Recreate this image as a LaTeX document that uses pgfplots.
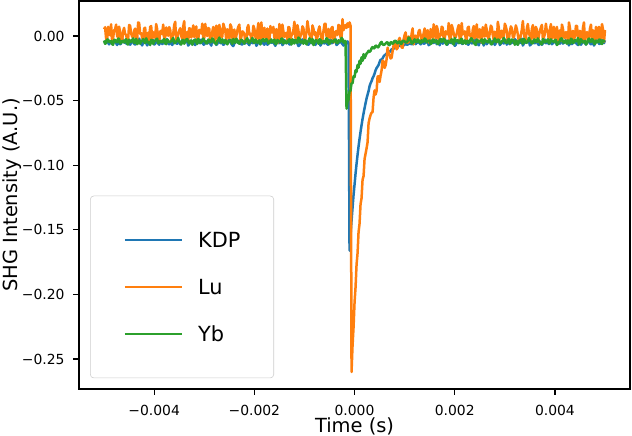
\documentclass[border=0pt]{standalone}
\usepackage{fontspec}
\setmainfont{DejaVu Sans}
\usepackage{pgfplots}
\usepackage{pgfplotstable}
\pgfplotsset{compat=1.18}
\definecolor{tabblue}{HTML}{1F77B4}
\definecolor{taborange}{HTML}{FF7F0E}
\definecolor{tabgreen}{HTML}{2CA02C}
\pgfplotstableread{
t kdp lu yb
-0.00500 -0.0046 0.0052 -0.0035
-0.00498 -0.0050 0.0068 -0.0060
-0.00496 -0.0033 -0.0018 -0.0055
-0.00494 -0.0032 -0.0035 -0.0027
-0.00492 -0.0051 0.0071 -0.0028
-0.00490 -0.0065 0.0025 -0.0045
-0.00488 -0.0041 0.0005 -0.0048
-0.00486 -0.0043 0.0090 -0.0038
-0.00484 -0.0060 -0.0035 -0.0062
-0.00482 -0.0056 -0.0018 -0.0068
-0.00480 -0.0035 0.0044 -0.0030
-0.00478 -0.0036 0.0050 -0.0031
-0.00476 -0.0054 0.0088 -0.0045
-0.00474 -0.0070 0.0000 -0.0048
-0.00472 -0.0045 -0.0010 -0.0020
-0.00470 -0.0047 0.0072 -0.0022
-0.00468 -0.0064 0.0030 -0.0058
-0.00466 -0.0058 -0.0028 -0.0053
-0.00464 -0.0026 -0.0042 -0.0038
-0.00462 -0.0028 0.0036 -0.0040
-0.00460 -0.0048 0.0063 -0.0050
-0.00458 -0.0052 0.0012 -0.0035
-0.00456 -0.0056 0.0012 -0.0025
-0.00454 -0.0063 -0.0042 -0.0058
-0.00452 -0.0037 -0.0025 -0.0066
-0.00450 -0.0040 0.0085 -0.0028
-0.00448 -0.0068 0.0079 -0.0040
-0.00446 -0.0055 0.0018 -0.0046
-0.00444 -0.0042 -0.0005 -0.0032
-0.00442 -0.0034 -0.0010 -0.0019
-0.00440 -0.0061 0.0040 -0.0054
-0.00438 -0.0066 0.0057 -0.0050
-0.00436 -0.0031 -0.0030 -0.0022
-0.00434 -0.0044 -0.0032 -0.0064
-0.00432 -0.0053 0.0105 -0.0047
-0.00430 -0.0020 0.0100 -0.0033
-0.00428 -0.0046 0.0018 -0.0060
-0.00426 -0.0059 0.0022 -0.0043
-0.00424 -0.0073 -0.0015 -0.0036
-0.00422 -0.0049 -0.0020 -0.0025
-0.00420 -0.0038 0.0058 -0.0044
-0.00418 -0.0038 0.0064 -0.0056
-0.00416 -0.0049 -0.0038 -0.0018
-0.00414 -0.0073 0.0005 -0.0038
-0.00412 -0.0059 0.0026 -0.0052
-0.00410 -0.0046 -0.0038 -0.0047
-0.00408 -0.0020 0.0070 -0.0070
-0.00406 -0.0053 0.0077 -0.0030
-0.00404 -0.0044 -0.0022 -0.0033
-0.00402 -0.0031 0.0030 -0.0061
-0.00400 -0.0066 0.0008 -0.0041
-0.00398 -0.0061 -0.0015 -0.0036
-0.00396 -0.0034 0.0092 -0.0026
-0.00394 -0.0042 0.0053 -0.0021
-0.00392 -0.0055 -0.0045 -0.0057
-0.00390 -0.0068 -0.0050 -0.0052
-0.00388 -0.0040 0.0035 -0.0039
-0.00386 -0.0037 0.0040 -0.0044
-0.00384 -0.0063 0.0015 -0.0049
-0.00382 -0.0056 0.0088 -0.0034
-0.00380 -0.0052 -0.0028 -0.0024
-0.00378 -0.0048 -0.0008 -0.0059
-0.00376 -0.0028 0.0066 -0.0063
-0.00374 -0.0026 0.0025 -0.0027
-0.00372 -0.0058 0.0002 -0.0037
-0.00370 -0.0064 0.0069 -0.0049
-0.00368 -0.0047 0.0048 -0.0046
-0.00366 -0.0045 -0.0030 -0.0040
-0.00364 -0.0070 -0.0012 -0.0029
-0.00362 -0.0054 0.0014 -0.0016
-0.00360 -0.0036 0.0084 -0.0055
-0.00358 -0.0035 0.0110 -0.0054
-0.00356 -0.0056 -0.0033 -0.0042
-0.00354 -0.0060 -0.0022 -0.0037
-0.00352 -0.0043 0.0022 -0.0015
-0.00350 -0.0041 0.0042 -0.0045
-0.00348 -0.0065 0.0060 -0.0051
-0.00346 -0.0051 -0.0002 -0.0066
-0.00344 -0.0032 -0.0020 -0.0034
-0.00342 -0.0033 0.0075 -0.0030
-0.00340 -0.0050 0.0115 -0.0060
-0.00338 -0.0046 -0.0040 -0.0042
-0.00336 -0.0038 0.0010 -0.0027
-0.00334 -0.0043 0.0032 -0.0024
-0.00332 -0.0074 -0.0040 -0.0045
-0.00330 -0.0063 0.0060 -0.0057
-0.00328 -0.0053 0.0055 -0.0038
-0.00326 -0.0036 -0.0012 -0.0035
-0.00324 -0.0045 0.0028 -0.0068
-0.00322 -0.0056 0.0082 -0.0048
-0.00320 -0.0062 -0.0008 -0.0031
-0.00318 -0.0070 0.0010 -0.0028
-0.00316 -0.0024 0.0074 -0.0048
-0.00314 -0.0038 -0.0035 -0.0062
-0.00312 -0.0048 -0.0030 -0.0022
-0.00310 -0.0053 0.0048 -0.0039
-0.00308 -0.0057 0.0038 -0.0053
-0.00306 -0.0028 0.0020 -0.0050
-0.00304 -0.0035 0.0095 -0.0040
-0.00302 -0.0066 -0.0025 -0.0020
-0.00300 -0.0067 -0.0015 -0.0035
-0.00298 -0.0046 0.0093 -0.0044
-0.00296 -0.0042 0.0020 -0.0058
-0.00294 -0.0058 0.0000 -0.0055
-0.00292 -0.0052 0.0062 -0.0028
-0.00290 -0.0033 0.0055 -0.0032
-0.00288 -0.0060 -0.0048 -0.0046
-0.00286 -0.0074 -0.0018 -0.0047
-0.00284 -0.0029 0.0033 -0.0019
-0.00282 -0.0048 0.0070 -0.0026
-0.00280 -0.0044 0.0007 -0.0050
-0.00278 -0.0040 -0.0045 -0.0058
-0.00276 -0.0069 0.0080 -0.0064
-0.00274 -0.0062 0.0038 -0.0036
-0.00272 -0.0038 -0.0025 -0.0033
-0.00270 -0.0030 0.0086 -0.0012
-0.00268 -0.0055 0.0045 -0.0043
-0.00266 -0.0055 -0.0010 -0.0051
-0.00264 -0.0046 -0.0005 -0.0025
-0.00262 -0.0068 0.0095 -0.0041
-0.00260 -0.0064 0.0068 -0.0056
-0.00258 -0.0044 0.0040 -0.0030
-0.00256 -0.0033 -0.0035 -0.0038
-0.00254 -0.0052 0.0052 -0.0065
-0.00252 -0.0051 0.0025 -0.0047
-0.00250 -0.0026 -0.0018 -0.0038
-0.00248 -0.0041 0.0090 -0.0030
-0.00246 -0.0060 0.0071 -0.0045
-0.00244 -0.0072 -0.0018 -0.0061
-0.00242 -0.0078 0.0005 -0.0023
-0.00240 -0.0058 0.0050 -0.0036
-0.00238 -0.0041 -0.0035 -0.0053
-0.00236 -0.0027 0.0000 -0.0021
-0.00234 -0.0049 0.0044 -0.0034
-0.00232 -0.0054 0.0072 -0.0052
-0.00230 -0.0034 0.0088 -0.0060
-0.00228 -0.0036 -0.0028 -0.0044
-0.00226 -0.0065 -0.0010 -0.0029
-0.00224 -0.0066 0.0036 -0.0034
-0.00222 -0.0047 0.0030 -0.0048
-0.00220 -0.0043 0.0012 -0.0059
-0.00218 -0.0057 -0.0042 -0.0040
-0.00216 -0.0048 -0.0042 -0.0027
-0.00214 -0.0032 0.0063 -0.0018
-0.00212 -0.0061 0.0085 -0.0049
-0.00210 -0.0071 0.0012 -0.0056
-0.00208 -0.0030 0.0018 -0.0040
-0.00206 -0.0045 -0.0025 -0.0037
-0.00204 -0.0056 -0.0010 -0.0016
-0.00202 -0.0054 0.0079 -0.0046
-0.00200 -0.0039 0.0057 -0.0054
-0.00198 -0.0037 -0.0005 -0.0027
-0.00196 -0.0076 -0.0032 -0.0037
-0.00194 -0.0063 0.0040 -0.0052
-0.00192 -0.0046 0.0100 -0.0045
-0.00190 -0.0050 -0.0030 -0.0033
-0.00188 -0.0053 0.0022 -0.0066
-0.00186 -0.0023 0.0105 -0.0043
-0.00184 -0.0035 -0.0020 -0.0030
-0.00182 -0.0059 0.0018 -0.0025
-0.00180 -0.0068 0.0064 -0.0042
-0.00178 -0.0042 -0.0015 -0.0038
-0.00176 -0.0042 0.0005 -0.0024
-0.00174 -0.0068 0.0058 -0.0035
-0.00172 -0.0059 -0.0038 -0.0057
-0.00170 -0.0035 -0.0038 -0.0055
-0.00168 -0.0023 0.0077 -0.0035
-0.00166 -0.0053 0.0026 -0.0028
-0.00164 -0.0050 0.0030 -0.0048
-0.00162 -0.0046 0.0070 -0.0048
-0.00160 -0.0063 -0.0015 -0.0028
-0.00158 -0.0076 -0.0022 -0.0062
-0.00156 -0.0037 0.0053 -0.0062
-0.00154 -0.0039 0.0008 -0.0030
-0.00152 -0.0054 -0.0050 -0.0039
-0.00150 -0.0056 0.0092 -0.0045
-0.00148 -0.0045 0.0040 -0.0050
-0.00146 -0.0030 -0.0045 -0.0020
-0.00144 -0.0071 0.0088 -0.0020
-0.00142 -0.0061 0.0035 -0.0058
-0.00140 -0.0032 -0.0008 -0.0044
-0.00138 -0.0048 0.0015 -0.0038
-0.00136 -0.0057 0.0025 -0.0055
-0.00134 -0.0043 -0.0028 -0.0050
-0.00132 -0.0047 0.0069 -0.0032
-0.00130 -0.0066 0.0066 -0.0025
-0.00128 -0.0065 -0.0030 -0.0047
-0.00126 -0.0036 0.0002 -0.0066
-0.00124 -0.0034 0.0014 -0.0026
-0.00122 -0.0054 0.0048 -0.0040
-0.00120 -0.0049 0.0110 -0.0058
-0.00118 -0.0027 -0.0012 -0.0032
-0.00116 -0.0041 -0.0022 -0.0036
-0.00114 -0.0058 0.0084 -0.0054
-0.00112 -0.0078 0.0042 -0.0012
-0.00110 -0.0072 -0.0033 -0.0022
-0.00108 -0.0060 -0.0002 -0.0051
-0.00106 -0.0041 0.0022 -0.0047
-0.00104 -0.0026 0.0075 -0.0041
-0.00102 -0.0051 0.0060 -0.0060
-0.00100 -0.0052 -0.0040 -0.0030
-0.00098 -0.0033 -0.0020 -0.0036
-0.00096 -0.0044 0.0032 -0.0065
-0.00094 -0.0064 0.0115 -0.0044
-0.00092 -0.0068 0.0060 -0.0038
-0.00090 -0.0046 0.0010 -0.0018
-0.00088 -0.0055 -0.0012 -0.0045
-0.00086 -0.0055 -0.0040 -0.0052
-0.00084 -0.0030 0.0082 -0.0023
-0.00082 -0.0038 0.0055 -0.0070
-0.00080 -0.0062 0.0010 -0.0053
-0.00078 -0.0069 0.0028 -0.0033
-0.00076 -0.0040 -0.0035 -0.0034
-0.00074 -0.0044 -0.0008 -0.0041
-0.00072 -0.0048 0.0048 -0.0060
-0.00070 -0.0029 0.0074 -0.0026
-0.00068 -0.0074 0.0020 -0.0029
-0.00066 -0.0060 -0.0030 -0.0057
-0.00064 -0.0033 -0.0025 -0.0048
-0.00062 -0.0052 0.0038 -0.0039
-0.00060 -0.0058 0.0093 -0.0040
-0.00058 -0.0042 0.0095 -0.0049
-0.00056 -0.0046 0.0000 -0.0018
-0.00054 -0.0067 -0.0015 -0.0024
-0.00052 -0.0066 0.0055 -0.0056
-0.00050 -0.0035 0.0020 -0.0063
-0.00048 -0.0028 -0.0018 -0.0037
-0.00046 -0.0057 0.0062 -0.0037
-0.00044 -0.0053 0.0070 -0.0046
-0.00042 -0.0048 -0.0048 -0.0046
-0.00040 -0.0038 -0.0045 -0.0027
-0.00038 -0.0024 0.0033 -0.0029
-0.00036 -0.0070 0.0038 -0.0052
-0.00034 -0.0062 0.0007 -0.0055
-0.00032 -0.0056 0.0086 -0.0033
-0.00030 -0.0045 0.0080 -0.0042
-0.00028 -0.0036 -0.0010 -0.0043
-0.00026 -0.0053 -0.0025 -0.0015
-0.00024 -0.0063 0.0130 -0.0025
-0.00022 -0.0074 0.0045 -0.0051
-0.00020 -0.0043 0.0070 -0.0038
-0.00018 -0.0045 0.0085 -0.0040
-0.00016 -0.0058 0.0062 -0.0562
-0.00014 -0.0042 0.0098 -0.0505
-0.00012 -0.0052 0.0071 -0.0492
-0.00010 -0.1660 0.0105 -0.0430
-0.00008 -0.1540 0.0080 -0.0422
-0.00006 -0.1430 -0.2600 -0.0365
-0.00004 -0.1330 -0.2395 -0.0366
-0.00002 -0.1230 -0.2255 -0.0312
0.00000 -0.1150 -0.2062 -0.0318
0.00002 -0.1065 -0.1945 -0.0265
0.00004 -0.0990 -0.1770 -0.0278
0.00006 -0.0920 -0.1682 -0.0225
0.00008 -0.0855 -0.1518 -0.0245
0.00010 -0.0796 -0.1452 -0.0192
0.00012 -0.0741 -0.1300 -0.0215
0.00014 -0.0690 -0.1255 -0.0165
0.00016 -0.0642 -0.1112 -0.0192
0.00018 -0.0599 -0.1085 -0.0140
0.00020 -0.0558 -0.0952 -0.0172
0.00024 -0.0483 -0.0870 -0.0136
0.00026 -0.0454 -0.0823 -0.0128
0.00028 -0.0427 -0.0675 -0.0114
0.00030 -0.0388 -0.0638 -0.0123
0.00032 -0.0366 -0.0611 -0.0115
0.00034 -0.0349 -0.0593 -0.0095
0.00036 -0.0326 -0.0589 -0.0086
0.00038 -0.0311 -0.0476 -0.0097
0.00040 -0.0291 -0.0421 -0.0092
0.00042 -0.0265 -0.0453 -0.0074
0.00044 -0.0248 -0.0425 -0.0077
0.00046 -0.0237 -0.0315 -0.0089
0.00048 -0.0224 -0.0311 -0.0085
0.00050 -0.0201 -0.0356 -0.0068
0.00052 -0.0183 -0.0306 -0.0053
0.00054 -0.0184 -0.0266 -0.0046
0.00056 -0.0173 -0.0190 -0.0064
0.00058 -0.0158 -0.0197 -0.0069
0.00060 -0.0149 -0.0247 -0.0066
0.00062 -0.0144 -0.0227 -0.0059
0.00064 -0.0137 -0.0180 -0.0050
0.00066 -0.0123 -0.0090 -0.0049
0.00068 -0.0117 -0.0131 -0.0069
0.00070 -0.0122 -0.0149 -0.0071
0.00072 -0.0117 -0.0174 -0.0048
0.00074 -0.0103 -0.0168 -0.0050
0.00076 -0.0100 -0.0118 -0.0060
0.00078 -0.0098 -0.0073 -0.0053
0.00080 -0.0090 -0.0042 -0.0037
0.00082 -0.0085 -0.0078 -0.0037
0.00084 -0.0090 -0.0103 -0.0050
0.00086 -0.0087 -0.0092 -0.0057
0.00088 -0.0074 -0.0032 -0.0044
0.00090 -0.0077 -0.0015 -0.0042
0.00092 -0.0077 -0.0043 -0.0062
0.00094 -0.0065 -0.0088 -0.0060
0.00096 -0.0076 -0.0092 -0.0037
0.00098 -0.0072 -0.0026 -0.0037
0.00100 -0.0066 0.0008 -0.0043
0.00102 -0.0064 0.0028 -0.0048
0.00104 -0.0066 -0.0047 -0.0051
0.00106 -0.0068 -0.0054 -0.0040
0.00108 -0.0055 -0.0004 -0.0012
0.00110 -0.0056 -0.0019 -0.0018
0.00112 -0.0063 -0.0051 -0.0036
0.00114 -0.0060 0.0019 -0.0056
0.00116 -0.0066 0.0059 -0.0058
0.00118 -0.0056 -0.0064 -0.0037
0.00120 -0.0053 -0.0014 -0.0026
0.00122 -0.0063 0.0003 -0.0046
0.00124 -0.0054 -0.0045 -0.0047
0.00126 -0.0050 -0.0014 -0.0027
0.00128 -0.0047 0.0037 -0.0032
0.00130 -0.0056 0.0047 -0.0052
0.00132 -0.0065 0.0004 -0.0055
0.00134 -0.0030 -0.0035 -0.0033
0.00136 -0.0047 -0.0020 -0.0044
0.00138 -0.0061 0.0023 -0.0043
0.00140 -0.0057 0.0058 -0.0020
0.00142 -0.0048 -0.0015 -0.0025
0.00144 -0.0032 0.0022 -0.0050
0.00146 -0.0043 0.0045 -0.0038
0.00148 -0.0071 -0.0049 -0.0039
0.00150 -0.0066 -0.0035 -0.0035
0.00152 -0.0045 0.0053 -0.0062
0.00154 -0.0036 0.0025 -0.0055
0.00156 -0.0054 -0.0015 -0.0028
0.00158 -0.0054 0.0090 -0.0028
0.00160 -0.0037 0.0030 -0.0048
0.00162 -0.0027 -0.0018 -0.0048
0.00164 -0.0063 0.0077 -0.0035
0.00166 -0.0058 0.0050 -0.0062
0.00168 -0.0050 -0.0038 -0.0057
0.00170 -0.0072 0.0000 -0.0030
0.00172 -0.0023 0.0005 -0.0024
0.00174 -0.0041 0.0072 -0.0045
0.00176 -0.0059 0.0064 -0.0042
0.00178 -0.0051 -0.0028 -0.0020
0.00180 -0.0042 -0.0020 -0.0030
0.00182 -0.0033 0.0036 -0.0058
0.00184 -0.0068 0.0022 -0.0066
0.00186 -0.0064 0.0012 -0.0038
0.00188 -0.0035 0.0100 -0.0045
0.00190 -0.0046 -0.0042 -0.0050
0.00192 -0.0053 -0.0032 -0.0037
0.00194 -0.0055 0.0085 -0.0025
0.00196 -0.0046 0.0057 -0.0054
0.00198 -0.0038 0.0018 -0.0066
0.00200 -0.0076 -0.0010 -0.0016
0.00202 -0.0069 -0.0010 -0.0040
0.00204 -0.0039 0.0018 -0.0040
0.00206 -0.0044 0.0057 -0.0032
0.00208 -0.0056 0.0085 -0.0049
0.00210 -0.0029 -0.0032 -0.0054
0.00212 -0.0030 -0.0042 -0.0027
0.00214 -0.0060 0.0100 -0.0022
0.00216 -0.0061 0.0012 -0.0059
0.00218 -0.0052 0.0022 -0.0047
0.00220 -0.0048 0.0036 -0.0034
0.00222 -0.0042 -0.0020 -0.0060
0.00224 -0.0043 -0.0028 -0.0044
0.00226 -0.0067 0.0064 -0.0036
0.00228 -0.0066 0.0072 -0.0052
0.00230 -0.0035 0.0005 -0.0044
0.00232 -0.0036 0.0000 -0.0021
0.00234 -0.0057 -0.0038 -0.0018
0.00236 -0.0054 0.0050 -0.0036
0.00238 -0.0048 0.0077 -0.0052
0.00240 -0.0027 -0.0018 -0.0061
0.00242 -0.0024 0.0030 -0.0070
0.00244 -0.0058 0.0090 -0.0030
0.00246 -0.0062 -0.0015 -0.0033
0.00248 -0.0072 0.0025 -0.0047
0.00250 -0.0045 0.0053 -0.0041
0.00252 -0.0041 -0.0035 -0.0038
0.00254 -0.0053 -0.0050 -0.0026
0.00256 -0.0051 0.0068 -0.0056
0.00258 -0.0074 0.0040 -0.0057
0.00260 -0.0033 -0.0005 -0.0025
0.00262 -0.0038 0.0088 -0.0039
0.00264 -0.0064 0.0045 -0.0043
0.00266 -0.0050 -0.0008 -0.0049
0.00268 -0.0046 -0.0025 -0.0033
0.00270 -0.0032 0.0025 -0.0024
0.00272 -0.0055 0.0080 -0.0064
0.00274 -0.0065 0.0069 -0.0063
0.00276 -0.0038 0.0007 -0.0050
0.00278 -0.0043 -0.0030 -0.0037
0.00280 -0.0069 0.0033 -0.0019
0.00282 -0.0056 0.0014 -0.0046
0.00284 -0.0044 -0.0048 -0.0046
0.00286 -0.0036 0.0110 -0.0029
0.00288 -0.0029 0.0062 -0.0028
0.00290 -0.0070 -0.0022 -0.0055
0.00292 -0.0060 0.0020 -0.0058
0.00294 -0.0047 0.0042 -0.0042
0.00296 -0.0052 -0.0015 -0.0035
0.00298 -0.0058 -0.0002 -0.0015
0.00300 -0.0042 0.0095 -0.0040
0.00302 -0.0028 0.0075 -0.0051
0.00304 -0.0067 0.0038 -0.0053
0.00306 -0.0052 -0.0040 -0.0034
0.00308 -0.0035 -0.0030 -0.0022
0.00310 -0.0063 0.0032 -0.0060
0.00312 -0.0057 0.0074 -0.0048
0.00314 -0.0040 0.0060 -0.0027
0.00316 -0.0048 -0.0008 -0.0031
0.00318 -0.0055 -0.0012 -0.0045
0.00320 -0.0024 0.0028 -0.0068
0.00322 -0.0034 0.0082 -0.0038
0.00324 -0.0062 0.0055 -0.0038
0.00326 -0.0066 0.0010 -0.0068
0.00328 -0.0045 -0.0040 -0.0045
0.00330 -0.0044 -0.0035 -0.0031
0.00332 -0.0053 0.0010 -0.0027
0.00334 -0.0020 0.0048 -0.0048
0.00336 -0.0074 0.0115 -0.0060
0.00338 -0.0059 0.0020 -0.0022
0.00340 -0.0038 -0.0020 -0.0034
0.00342 -0.0049 -0.0025 -0.0053
0.00344 -0.0050 0.0060 -0.0051
0.00346 -0.0038 0.0093 -0.0040
0.00348 -0.0032 0.0022 -0.0015
0.00350 -0.0073 0.0000 -0.0035
0.00352 -0.0065 -0.0033 -0.0042
0.00354 -0.0046 0.0055 -0.0058
0.00356 -0.0043 0.0084 -0.0055
0.00358 -0.0053 -0.0018 -0.0028
0.00360 -0.0056 -0.0012 -0.0029
0.00362 -0.0031 0.0070 -0.0046
0.00364 -0.0036 0.0048 -0.0046
0.00366 -0.0061 -0.0045 -0.0019
0.00368 -0.0070 0.0002 -0.0037
0.00370 -0.0042 0.0038 -0.0050
0.00372 -0.0047 0.0066 -0.0063
0.00374 -0.0068 0.0086 -0.0064
0.00376 -0.0058 -0.0028 -0.0024
0.00378 -0.0037 -0.0010 -0.0033
0.00380 -0.0028 0.0015 -0.0049
0.00382 -0.0056 0.0095 -0.0043
0.00384 -0.0052 0.0035 -0.0039
0.00386 -0.0048 0.0040 -0.0025
0.00388 -0.0063 -0.0045 -0.0057
0.00390 -0.0026 0.0052 -0.0056
0.00392 -0.0040 0.0092 -0.0026
0.00394 -0.0064 -0.0018 -0.0038
0.00396 -0.0055 0.0008 -0.0041
0.00398 -0.0045 0.0071 -0.0047
0.00400 -0.0034 -0.0022 -0.0033
0.00402 -0.0054 0.0005 -0.0030
0.00404 -0.0066 0.0070 -0.0070
0.00406 -0.0035 -0.0035 -0.0061
0.00408 -0.0044 0.0026 -0.0052
0.00410 -0.0060 0.0044 -0.0036
0.00412 -0.0020 -0.0038 -0.0018
0.00414 -0.0041 0.0088 -0.0021
0.00416 -0.0059 0.0058 -0.0044
0.00418 -0.0051 -0.0010 -0.0052
0.00420 -0.0049 -0.0015 -0.0036
0.00422 -0.0033 0.0030 -0.0044
0.00424 -0.0038 0.0018 -0.0060
0.00426 -0.0046 -0.0042 -0.0034
0.00428 -0.0073 0.0105 -0.0047
0.00430 -0.0043 0.0063 -0.0059
0.00432 -0.0046 -0.0030 -0.0022
0.00434 -0.0063 0.0012 -0.0027
0.00436 -0.0053 0.0040 -0.0054
0.00438 -0.0036 -0.0025 -0.0049
0.00440 -0.0031 -0.0005 -0.0032
0.00442 -0.0056 0.0079 -0.0040
0.00444 -0.0061 0.0079 -0.0040
0.00446 -0.0070 -0.0005 -0.0016
0.00448 -0.0042 -0.0025 -0.0066
0.00450 -0.0038 0.0040 -0.0054
0.00452 -0.0068 0.0012 -0.0025
0.00454 -0.0053 -0.0030 -0.0037
0.00456 -0.0037 0.0063 -0.0050
0.00458 -0.0028 0.0105 -0.0045
0.00460 -0.0056 -0.0042 -0.0038
0.00462 -0.0066 0.0018 -0.0066
0.00464 -0.0048 0.0030 -0.0058
0.00466 -0.0046 -0.0015 -0.0030
0.00468 -0.0026 -0.0010 -0.0020
0.00470 -0.0058 0.0058 -0.0042
0.00472 -0.0064 0.0088 -0.0045
0.00474 -0.0033 -0.0038 -0.0024
0.00476 -0.0045 0.0044 -0.0030
0.00478 -0.0074 0.0026 -0.0057
0.00480 -0.0054 -0.0035 -0.0062
0.00482 -0.0048 0.0070 -0.0035
0.00484 -0.0035 0.0005 -0.0048
0.00486 -0.0040 -0.0022 -0.0048
0.00488 -0.0060 0.0071 -0.0028
0.00490 -0.0062 0.0008 -0.0028
0.00492 -0.0041 -0.0018 -0.0055
0.00494 -0.0030 0.0092 -0.0062
0.00496 -0.0051 0.0052 -0.0035
0.00498 -0.0055 -0.0045 -0.0039
0.00500 -0.0033 0.0045 -0.0040
}\shgdata

\begin{document}
\begin{tikzpicture}
\begin{axis}[
  scale only axis,
  width=396.7pt, height=279.4pt,
  xmin=-0.0055, xmax=0.0055,
  ymin=-0.2732, ymax=0.0271,
  xtick={-0.004,-0.002,0,0.002,0.004},
  xticklabels={−0.004,−0.002,0.000,0.002,0.004},
  ytick={-0.25,-0.2,-0.15,-0.1,-0.05,0},
  yticklabels={−0.25,−0.20,−0.15,−0.10,−0.05,0.00},
  scaled ticks=false,
  tick align=outside,
  tick pos=left,
  major tick length=4pt,
  every tick/.style={black, line width=0.9pt},
  axis line style={black, line width=0.9pt},
  tick label style={font=\fontsize{10}{12}\selectfont, inner sep=0pt},
  xticklabel style={anchor=north, yshift=-7.6pt},
  yticklabel style={anchor=east, xshift=-6.3pt},
  xlabel={Time (s)},
  ylabel={SHG Intensity (A.U.)},
  label style={font=\fontsize{14}{16}\selectfont, inner sep=0pt},
  xlabel style={at={(axis description cs:0.5,-0.1108)}, anchor=base},
  ylabel style={at={(axis description cs:-0.1397,0.5)}, anchor=north},
  legend cell align=left,
  legend style={at={(axis description cs:0.020,0.028)}, anchor=south west,
    draw=black!20, rounded corners=2.5pt, fill=white, fill opacity=0.8,
    text opacity=1, draw opacity=1,
    inner xsep=24pt, inner ysep=26pt, row sep=23pt,
    nodes={inner sep=0pt, text height=11pt, text depth=0pt, font=\fontsize{15}{18}\selectfont},
    /tikz/every odd column/.append style={column sep=11pt}},
  legend image code/.code={\draw[#1, line width=1.6pt] (0pt,0pt) -- (41pt,0pt);},
]
\coordinate (bl) at (rel axis cs:0,0);
\coordinate (tr) at (rel axis cs:1,1);
\addplot[tabblue, line width=1.8pt, line join=round] table[x=t, y=kdp] {\shgdata};
\addlegendentry{KDP}
\addplot[taborange, line width=1.8pt, line join=round] table[x=t, y=lu] {\shgdata};
\addlegendentry{Lu}
\addplot[tabgreen, line width=1.8pt, line join=round] table[x=t, y=yb] {\shgdata};
\addlegendentry{Yb}
\end{axis}
\pgfresetboundingbox
\path[use as bounding box] ([xshift=-56.9pt,yshift=-33.1pt]bl) rectangle ([xshift=1.4pt,yshift=0.7pt]tr);
\end{tikzpicture}
\end{document}
